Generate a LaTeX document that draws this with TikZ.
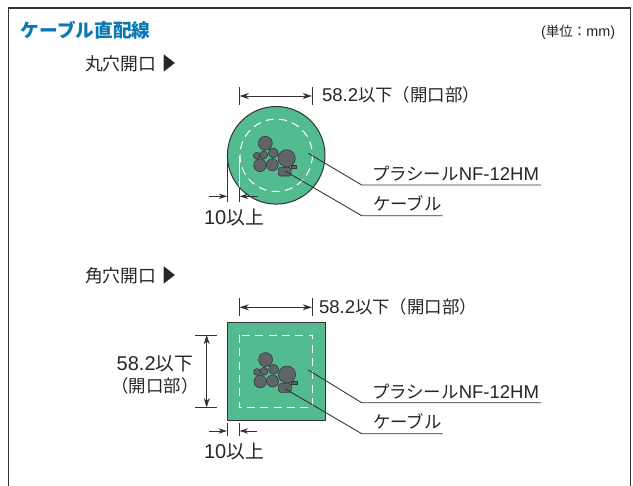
\documentclass[tikz,border=0pt]{standalone}
\usepackage{fontspec}
\setmainfont{Liberation Sans}
\newfontfamily\jpf[Scale=0.94]{Noto Sans CJK JP}
\usetikzlibrary{arrows.meta}
\definecolor{plate}{HTML}{52BB90}
\definecolor{cablegray}{HTML}{5F6468}
\definecolor{inkline}{HTML}{333333}
\definecolor{titleblue}{HTML}{0B78B4}
\newcommand{\jt}[1]{{\jpf #1}}
\newcommand{\tri}{\kern 4.5pt{\jpf\scalebox{0.78}[1.05]{▶}}}
\tikzset{
  frameline/.style={draw=inkline,line width=0.9pt},
  platefill/.style={fill=plate,draw=inkline,line width=0.75pt},
  hole/.style={draw=white,line width=0.75pt,dash pattern=on 6pt off 4pt},
  cablepart/.style={fill=cablegray,draw=inkline,line width=0.4pt},
  dimline/.style={draw=inkline,line width=0.65pt},
  dimarrow/.style={draw=inkline,line width=0.65pt,{Stealth[length=7pt,width=4.5pt]}-{Stealth[length=7pt,width=4.5pt]}},
  dimtip/.style={draw=inkline,line width=0.65pt,-{Stealth[length=6.5pt,width=4pt]}},
  leader/.style={draw=inkline,line width=0.65pt},
  lab/.style={anchor=base west,inner sep=0pt,outer sep=0pt,text=black!85,font=\fontsize{13.9}{17}\selectfont},
  biglab/.style={lab,font=\fontsize{15}{18}\selectfont},
  smalllab/.style={lab,font=\fontsize{10.8}{12}\selectfont},
  titlelab/.style={lab,text=titleblue,font=\bfseries\fontsize{14.9}{17}\selectfont},
}
\newcommand{\cablebundle}{
  \fill[cablepart] (265.3,143.3) circle (7);
  \fill[cablepart] (256.7,155.7) circle (3.4);
  \fill[cablepart] (263.7,155) circle (4);
  \fill[cablepart] (273.3,153) circle (5);
  \fill[cablepart] (260,165.3) circle (6.3);
  \fill[cablepart] (272.3,164.7) circle (6);
  \filldraw[cablepart] (291,165.3) rectangle (296.7,168);
  \filldraw[cablepart,rounded corners=1.2pt] (278.3,167.3) rectangle (291,176);
  \fill[cablepart] (286.7,158.3) circle (8.6);
}
\begin{document}
\begin{tikzpicture}[x=0.75pt,y=-0.75pt]
\useasboundingbox (0,0) rectangle (633,486);
\fill[white] (0,0) rectangle (633,486);
\draw[frameline] (8.7,486) -- (8.7,8) -- (630.5,8) -- (630.5,486);

\node[titlelab] (title) at (21,37) {\jt{ケーブル直配線}};
\node[smalllab] (unit) at (541,36) {(\jt{単位：}mm)};
\node[lab,font=\fontsize{14.2}{17}\selectfont] (round) at (85,70) {\jt{丸穴開口}\tri};
\node[lab,font=\fontsize{14.2}{17}\selectfont] (square) at (85,282) {\jt{角穴開口}\tri};

% round opening
\node[circle,platefill,minimum size=97.6*0.75pt,inner sep=0pt] (disc) at (276.2,155.3) {};
\draw[hole] (276.2,155.3) circle (36.2);
\cablebundle
\coordinate (rA) at (239.5,86.7); \coordinate (rB) at (239.5,105);
\coordinate (rC) at (312,86.7);  \coordinate (rD) at (312,105);
\draw[dimline] (rA) -- (rB); \draw[dimline] (rC) -- (rD);
\draw[dimarrow] (239.5,96) -- (312,96);
\node[lab] (rw) at (322,101.5) {58.2\jt{以下（開口部）}};
\coordinate (rp1) at (308.3,153.3); \coordinate (rp2) at (361.7,185); \coordinate (rp3) at (541,185);
\draw[leader] (rp1) -- (rp2) -- (rp3);
\node[lab] (rplug) at (372,180.5) {\jt{プラシール}NF-12HM};
\coordinate (rc1) at (285,171); \coordinate (rc2) at (361.7,215.7); \coordinate (rc3) at (442.7,215.7);
\draw[leader] (rc1) -- (rc2) -- (rc3);
\node[lab] (rcab) at (373,210.5) {\jt{ケーブル}};
\draw[dimline] (227.3,150) -- (227.3,201.7);
\draw[draw=white,line width=0.75pt] (239.5,156) -- (239.5,187);
\draw[dimline] (239.5,187) -- (239.5,201.7);
\coordinate (rl) at (209.3,196.3); \coordinate (rl2) at (227.3,196.3);
\coordinate (rr) at (257.7,196.3); \coordinate (rr2) at (239.5,196.3);
\draw[dimtip] (rl) -- (rl2); \draw[dimtip] (rr) -- (rr2);
\node[biglab] (rten) at (204,224.5) {10\jt{以上}};

% square opening
\node[rectangle,platefill,minimum size=97.6*0.75pt,inner sep=0pt] (plate) at (276.2,371.5) {};
\draw[hole] (239.3,335) rectangle (312.3,407.3);
\begin{scope}[shift={(0.3,216.3)}]
\cablebundle
\end{scope}
\coordinate (sA) at (239.5,298.3); \coordinate (sB) at (239.5,316);
\coordinate (sC) at (312,298.3);  \coordinate (sD) at (312,316);
\draw[dimline] (sA) -- (sB); \draw[dimline] (sC) -- (sD);
\draw[dimarrow] (239.5,307.3) -- (312,307.3);
\node[lab] (sw) at (319,313) {58.2\jt{以下（開口部）}};
\draw[dimline] (195,335) -- (216.7,335);
\draw[dimline] (195,407.3) -- (216.7,407.3);
\draw[dimarrow] (206.7,335) -- (206.7,407.3);
\node[lab,anchor=center,align=center] (sh) at (155,375) {{\fontsize{15}{18}\selectfont 58.2\jt{以下}}\\[0pt]\jt{（開口部）}};
\coordinate (sp1) at (308.3,370); \coordinate (sp2) at (361.7,402.7); \coordinate (sp3) at (541,402.7);
\draw[leader] (sp1) -- (sp2) -- (sp3);
\node[lab] (splug) at (372,398) {\jt{プラシール}NF-12HM};
\coordinate (sc1) at (285,388.7); \coordinate (sc2) at (361.7,433.7); \coordinate (sc3) at (442.7,433.7);
\draw[leader] (sc1) -- (sc2) -- (sc3);
\node[lab] (scab) at (373,428.5) {\jt{ケーブル}};
\draw[dimline] (227,423.3) -- (227,436);
\draw[dimline] (239.5,423.3) -- (239.5,436);
\coordinate (sl) at (209.3,431); \coordinate (sl2) at (227,431);
\coordinate (sr) at (257.3,431); \coordinate (sr2) at (239.5,431);
\draw[dimtip] (sl) -- (sl2); \draw[dimtip] (sr) -- (sr2);
\node[biglab] (sten) at (204,458.5) {10\jt{以上}};
\end{tikzpicture}
\end{document}
